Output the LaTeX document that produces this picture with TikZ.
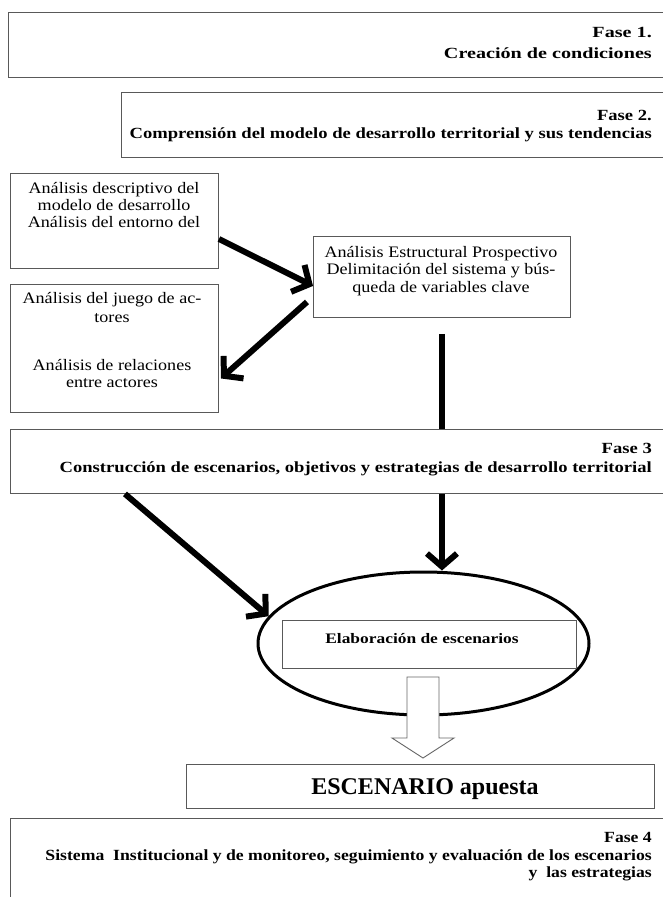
\documentclass[tikz,border=0pt]{standalone}
\usepackage{fontspec}
\setmainfont{Liberation Serif}
\newfontfamily\fasefont[FakeStretch=1.2]{Liberation Serif}
\newfontfamily\fasefontw[FakeStretch=1.3]{Liberation Serif}
\newfontfamily\fasefontn[FakeStretch=1.14]{Liberation Serif}
\newfontfamily\boxfont[FakeStretch=1.13]{Liberation Serif}
\usetikzlibrary{shapes.geometric,arrows.meta,calc}
\begin{document}
\begin{tikzpicture}[x=1pt,y=-1pt,
  box/.style={draw=black!65,line width=0.9pt,inner sep=0pt,fill=white},
  fl/.style={font=\fasefont\bfseries\fontsize{15.5}{18}\selectfont,anchor=base east,inner sep=0pt},
  flw/.style={font=\fasefontw\bfseries\fontsize{15.5}{18}\selectfont,anchor=base east,inner sep=0pt},
  fln/.style={font=\fasefontn\bfseries\fontsize{15.5}{18}\selectfont,anchor=base east,inner sep=0pt},
  bl/.style={font=\boxfont\fontsize{16}{18}\selectfont,anchor=base,inner sep=0pt},
  bigarrow/.style={line width=6pt,-{Straight Barb[length=13pt,width=30pt]}},
  thickline/.style={line width=6pt}]
\useasboundingbox (0,0) rectangle (662,897);
\fill[white] (0,0) rectangle (662,897);

% Fase 1
\node[box,minimum width=660pt,minimum height=65pt,anchor=north west] (f1) at (8,12) {};
\node[flw] (f1a) at (652,37) {Fase 1.};
\node[flw] (f1b) at (652,58) {Creación de condiciones};

% Fase 2
\node[box,minimum width=545pt,minimum height=65pt,anchor=north west] (f2) at (121,92) {};
\node[fl] (f2a) at (652,120) {Fase 2.};
\node[fl] (f2b) at (652,138) {Comprensión del modelo de desarrollo territorial y sus tendencias};

% Box A
\node[box,minimum width=208pt,minimum height=95pt,anchor=north west] (a) at (10,173) {};
\node[bl] (a1) at (114,193) {Análisis descriptivo del};
\node[bl] (a2) at (114,210) {modelo de desarrollo};
\node[bl] (a3) at (114,227) {Análisis del entorno del};

% Box B
\node[box,minimum width=208pt,minimum height=128pt,anchor=north west] (b) at (10,284) {};
\node[bl] (b1) at (112,303) {Análisis del juego de ac-};
\node[bl] (b2) at (112,322) {tores};
\node[bl] (b3) at (112,370) {Análisis de relaciones};
\node[bl] (b4) at (112,387) {entre actores};

% Box C
\node[box,minimum width=257pt,minimum height=81pt,anchor=north west] (c) at (313,236) {};
\node[bl] (c1) at (441,257) {Análisis Estructural Prospectivo};
\node[bl] (c2) at (441,274) {Delimitación del sistema y bús-};
\node[bl] (c3) at (441,292) {queda de variables clave};

% Fase 3
\node[box,minimum width=655pt,minimum height=64pt,anchor=north west] (f3) at (10,429) {};
\node[fl] (f3a) at (652,453) {Fase 3};
\node[fl] (f3b) at (652,472) {Construcción de escenarios, objetivos y estrategias de desarrollo territorial};

% arrows in Fase 2 area
\draw[bigarrow] ([yshift=-18pt]a.east) -- ([yshift=-9pt]c.west);
\draw[bigarrow] ([xshift=-6pt,yshift=-25pt]c.west) -- ([xshift=2pt,yshift=-30pt]b.east);
\draw[thickline] ([yshift=-16pt]c.south) -- (c.south |- f3.north);

% Ellipse
\node[draw,ellipse,line width=3pt,minimum width=331pt,minimum height=143pt] (el) at (423.5,643.5) {};
\node[box,minimum width=294pt,minimum height=48pt,anchor=north west] (elab) at (282,620) {};
\node[font=\fasefont\bfseries\fontsize{14.5}{18}\selectfont,anchor=base,inner sep=0pt] (elabt) at (422,643) {Elaboración de escenarios};

% arrows from Fase 3
\draw[bigarrow] ([xshift=-213pt]f3.south) -- (el.170);
\draw[bigarrow] (c.south |- f3.south) -- (c.south |- el.north);

% hollow arrow
\draw[draw=black!60,fill=white,line width=0.9pt] (407,677) -- (439,677) -- (439,738) -- (454,738) -- (423,758) -- (392,738) -- (407,738) -- cycle;

% ESCENARIO apuesta
\node[box,minimum width=468pt,minimum height=44pt,anchor=north west] (esc) at (186,764) {};
\node[font=\bfseries\fontsize{24}{26}\selectfont,anchor=base,inner sep=0pt] (esct) at (425,794) {ESCENARIO apuesta};

% Fase 4
\node[box,minimum width=655pt,minimum height=100pt,anchor=north west] (f4) at (10,818) {};
\node[fln] (f4a) at (652,842) {Fase 4};
\node[fln] (f4b) at (652,860) {Sistema~ Institucional y de monitoreo, seguimiento y evaluación de los escenarios};
\node[fln] (f4c) at (652,877) {y~ las estrategias};
\end{tikzpicture}
\end{document}
